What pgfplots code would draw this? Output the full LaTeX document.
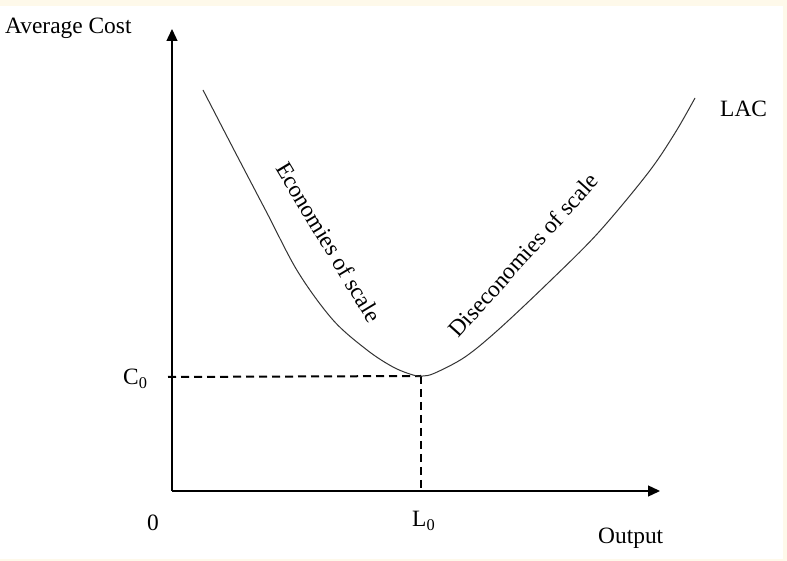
\documentclass[border=0pt]{standalone}
\usepackage{pgfplots}
\pgfplotsset{compat=1.18}
\usepackage{fontspec}
\setmainfont{Liberation Serif}
\usetikzlibrary{arrows.meta}
\definecolor{cream}{RGB}{254,249,234}
\tikzset{lab/.style={font=\fontsize{23.5}{28}\selectfont, inner sep=0pt}}
\begin{document}
\begin{tikzpicture}
\begin{axis}[
  hide axis, scale only axis,
  width=787bp, height=561bp,
  xmin=0, xmax=787, ymin=0, ymax=561,
  clip=false,
]
\fill[cream] (axis cs:0,0) rectangle (axis cs:787,561);
\fill[white] (axis cs:0,2) rectangle (axis cs:783,555);
% axes
\addplot[black, line width=1.3bp, -{Triangle[length=12bp,width=11bp]}] coordinates {(172,70) (172,532)};
\addplot[black, line width=1.3bp, -{Triangle[length=12bp,width=11bp]}] coordinates {(172,70) (660,70)};
% dashed guides
\addplot[black, line width=2bp, dash pattern=on 8bp off 5bp] coordinates {(168,184) (421,185)};
\addplot[black, line width=2bp, dash pattern=on 8bp off 5bp] coordinates {(421,185) (421,70)};
% LAC curve (x = px, y = 561 - px)
\addplot[black!80, line width=1bp, smooth, tension=0.55] coordinates {
(203,471) (233,413) (267,348) (298,289) (333,241) (367,211) (393,194) (413,186) (423,185)
(435,188) (465,204) (498,231) (548,278) (598,328) (648,388) (675,428) (695,463)};
% labels
\node[lab, anchor=base west] at (axis cs:5,527) {Average Cost};
\node[lab, anchor=base west] at (axis cs:720,444) {LAC};
\node[lab, anchor=base west] at (axis cs:123,176) {C\textsubscript{0}};
\node[lab, anchor=base west] at (axis cs:147,31) {0};
\node[lab, anchor=base west] at (axis cs:412,34) {L\textsubscript{0}};
\node[lab, anchor=base west] at (axis cs:598,18) {Output};
\node[lab, rotate=-59] at (axis cs:329,319) {Economies of scale};
\node[lab, rotate=48] at (axis cs:523,306) {Diseconomies of scale};
\end{axis}
\end{tikzpicture}
\end{document}
